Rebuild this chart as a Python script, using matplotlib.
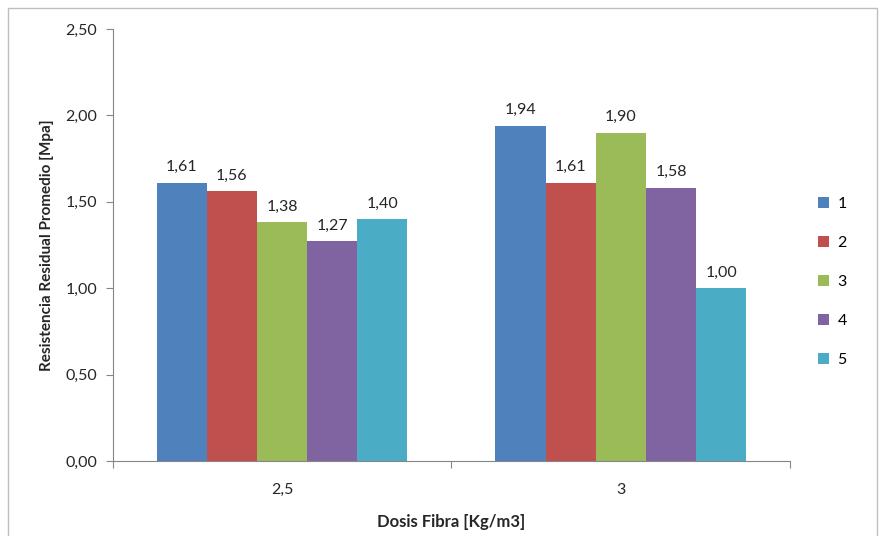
import numpy as np
import matplotlib.pyplot as plt
from matplotlib.patches import Rectangle

categories = ["2,5", "3"]
series_names = ["1", "2", "3", "4", "5"]
values = [
    [1.61, 1.94],
    [1.56, 1.61],
    [1.38, 1.90],
    [1.27, 1.58],
    [1.40, 1.00],
]
colors = ["#4F81BD", "#C0504D", "#9BBB59", "#8064A2", "#4BACC6"]

plt.rcParams['font.family'] = ['Lato', 'DejaVu Sans']

fig = plt.figure(figsize=(8.8, 5.36), dpi=100)
fig.patches.append(Rectangle((0.009, -0.02), 0.988, 1.005, transform=fig.transFigure,
                             fill=False, edgecolor="#BFBFBF", linewidth=1.0))
ax = fig.add_axes([0.128, 0.140, 0.770, 0.806])

x = np.arange(len(categories))
width = 0.148
for i, (name, vals) in enumerate(zip(series_names, values)):
    pos = x + (i - 2) * width
    bars = ax.bar(pos, vals, width=width, color=colors[i], label=name)
    for b, v in zip(bars, vals):
        ax.text(b.get_x() + b.get_width() / 2, v + 0.05, "{:.2f}".format(v).replace(".", ","),
                ha="center", va="bottom", fontsize=11.5, color="#262626")

ax.set_xlim(-0.5, 1.5)
ax.set_ylim(0, 2.5)
ax.set_yticks(np.arange(0, 2.51, 0.5))
ax.set_yticklabels(["{:.2f}".format(t).replace(".", ",") for t in np.arange(0, 2.51, 0.5)],
                   fontsize=11.5, color="#262626")
ax.set_xticks([-0.5, 0.5, 1.5])
ax.set_xticklabels([])
ax.set_xticks(x, minor=True)
ax.set_xticklabels(categories, minor=True, fontsize=11.5, color="#262626")
ax.tick_params(axis="x", which="minor", length=0, pad=16)
ax.tick_params(axis="x", which="major", length=5, color="#868686")
ax.tick_params(axis="y", length=5, color="#868686", pad=6)

for s in ["top", "right"]:
    ax.spines[s].set_visible(False)
for s in ["left", "bottom"]:
    ax.spines[s].set_color("#868686")

ax.set_ylabel("Resistencia Residual Promedio [Mpa]", fontsize=11, fontweight="bold",
              color="#262626", labelpad=8)
ax.set_xlabel("Dosis Fibra [Kg/m3]", fontsize=12, fontweight="bold", color="#262626", labelpad=12)

ax.legend(loc="center left", bbox_to_anchor=(1.02, 0.414), frameon=False, fontsize=11.5,
          handlelength=0.7, handleheight=0.7, labelspacing=1.55, handletextpad=0.5)

fig.savefig("out.png", dpi=100)
